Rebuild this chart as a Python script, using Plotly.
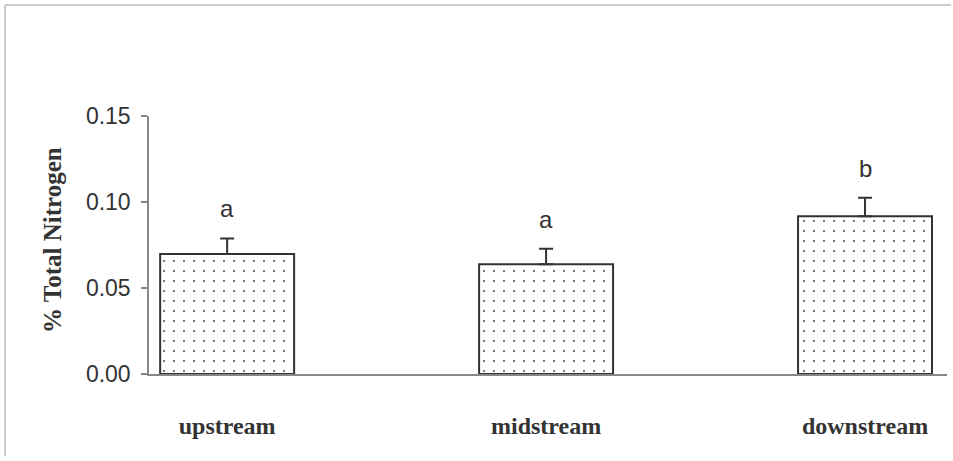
import plotly.graph_objects as go

categories = ["upstream", "midstream", "downstream"]
means = [0.0698, 0.0638, 0.0917]
errors = [0.0090, 0.0090, 0.0107]
letters = ["a", "a", "b"]
y_ticks = [0.00, 0.05, 0.10, 0.15]
y_tick_text = ["0.00", "0.05", "0.10", "0.15"]

x_idx = list(range(len(categories)))

W, H = 953, 461
ML, MR, MT, MB = 149, 6, 116, 87
PW, PH = W - ML - MR, H - MT - MB

fig = go.Figure()
fig.add_trace(go.Bar(
    x=x_idx, y=means, width=0.42,
    marker=dict(
        color="white",
        line=dict(color="#333333", width=2),
        pattern=dict(shape=".", fgcolor="#555555", bgcolor="white",
                     size=10, solidity=0.035, fillmode="replace"),
    ),
    error_y=dict(type="data", symmetric=False, array=errors,
                 arrayminus=[0] * len(errors), color="#333333",
                 thickness=2, width=7),
    showlegend=False,
))

for xi, m, e, t in zip(x_idx, means, errors, letters):
    fig.add_annotation(x=xi, y=m + e, text=t, showarrow=False,
                       yanchor="bottom", yshift=14,
                       font=dict(family="Liberation Sans, Arial", size=24, color="#333333"))

fig.add_annotation(xref="paper", yref="paper", x=0, y=0.5, xshift=-97, yshift=5,
                   text="% Total Nitrogen", textangle=-90, showarrow=False,
                   xanchor="center", yanchor="middle",
                   font=dict(family="Liberation Serif, Times New Roman", size=25,
                             color="#333333", weight="bold"))

# outer frame (left and top edges)
fx0 = (5 - ML) / PW
fx1 = (951 - ML) / PW
fy_top = (H - MB - 5) / PH
fy_bot = (H - MB - 456) / PH
fig.add_shape(type="line", xref="paper", yref="paper", x0=fx0, x1=fx0,
              y0=fy_bot, y1=fy_top, line=dict(color="#bbbbbb", width=1.5))
fig.add_shape(type="line", xref="paper", yref="paper", x0=fx0, x1=fx1,
              y0=fy_top, y1=fy_top, line=dict(color="#bbbbbb", width=1.5))

fig.update_layout(
    width=W, height=H, autosize=False,
    margin=dict(l=ML, r=MR, t=MT, b=MB),
    paper_bgcolor="white", plot_bgcolor="white",
    xaxis=dict(
        range=[-0.245, 2.257], tickmode="array", tickvals=x_idx, ticktext=categories,
        showgrid=False, zeroline=False, showline=True, linecolor="#888888", linewidth=1.5,
        ticks="", ticklabelstandoff=29,
        tickfont=dict(family="Liberation Serif, Times New Roman", size=24,
                      color="#333333", weight="bold"),
    ),
    yaxis=dict(
        range=[0, 0.15], tickmode="array", tickvals=y_ticks, ticktext=y_tick_text,
        showgrid=False, zeroline=False, showline=True, linecolor="#888888", linewidth=1.5,
        ticks="outside", ticklen=6, tickcolor="#888888", tickwidth=1.5,
        ticklabelstandoff=6,
        tickfont=dict(family="Liberation Sans, Arial", size=23, color="#333333"),
    ),
)

fig.write_html("out.html", config={"displayModeBar": False},
               post_script="document.body.style.margin='0px';")
